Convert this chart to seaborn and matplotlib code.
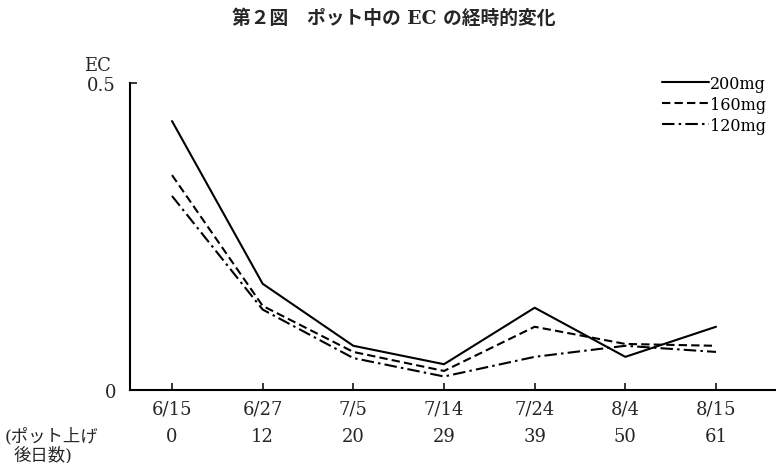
import matplotlib
matplotlib.use('Agg')
import matplotlib.pyplot as plt
import matplotlib.transforms as mtransforms
import pandas as pd
import seaborn as sns

# data
dates = ['6/15', '6/27', '7/5', '7/14', '7/24', '8/4', '8/15']
days = ['0', '12', '20', '29', '39', '50', '61']
ec_200 = [0.438, 0.173, 0.072, 0.042, 0.134, 0.054, 0.103]
ec_160 = [0.350, 0.137, 0.062, 0.031, 0.103, 0.075, 0.072]
ec_120 = [0.316, 0.131, 0.052, 0.022, 0.054, 0.072, 0.062]
doses = ['200mg', '160mg', '120mg']

rows = []
for dose, vals in zip(doses, [ec_200, ec_160, ec_120]):
    for i, v in enumerate(vals):
        rows.append({'pos': i, 'date': dates[i], 'EC': v, 'dose': dose})
df = pd.DataFrame(rows)

sns.set_theme(style='ticks')
fam = ['DejaVu Serif', 'Noto Sans CJK JP']
plt.rcParams['font.family'] = fam
plt.rcParams['axes.unicode_minus'] = False

fig = plt.figure(figsize=(7.76, 4.64), dpi=100)
ax = fig.add_axes([130 / 776, 1 - 391 / 464, 1 - 130 / 776, (391 - 84) / 464])

dashes = {'200mg': '', '160mg': (4, 2), '120mg': (6, 2, 1.2, 2)}
sns.lineplot(data=df, x='pos', y='EC', style='dose', style_order=doses,
             dashes=dashes, color='black', linewidth=1.5, sort=False, ax=ax)

# axes and ticks
ax.set_xlim(-42 / 90.67, 6 + 60 / 90.67)
ax.set_ylim(0, 0.5)
ax.set_xticks(range(len(dates)))
ax.set_xticklabels(dates, fontsize=13)
ax.set_yticks([0, 0.5])
ax.set_yticklabels(['0', '0.5'], fontsize=13)
ax.tick_params(axis='both', direction='in', length=5, width=1.1,
               color='black', pad=7)
ax.tick_params(axis='y', pad=10)
ax.set_xlabel('')
ax.set_ylabel('')
for s in ['top', 'right']:
    ax.spines[s].set_visible(False)
for s in ['left', 'bottom']:
    ax.spines[s].set_color('black')
    ax.spines[s].set_linewidth(1.5)

# day numbers under the dates
trans = mtransforms.blended_transform_factory(ax.transData, fig.transFigure)
for i, d in enumerate(days):
    ax.text(i, 1 - 437 / 464, d, transform=trans, ha='center', va='center',
            fontsize=13)
fig.text(5 / 776, 1 - 437 / 464, '(ポット上げ', ha='left', va='center',
         fontsize=12.5)
fig.text(14 / 776, 1 - 456 / 464, '後日数)', ha='left', va='center',
         fontsize=12.5)
fig.text(97 / 776, 1 - 66 / 464, 'EC', ha='center', va='center', fontsize=13)

# title
fig.text(394 / 776, 1 - 18 / 464, '第２図　ポット中の EC の経時的変化',
         ha='center', va='center', fontsize=13.5, fontweight='bold')

# legend
leg = ax.legend(loc='upper right', bbox_to_anchor=(1.0, 1 - 66 / 464),
                bbox_transform=fig.transFigure, frameon=False, fontsize=11.5,
                handlelength=2.9, handletextpad=0.1, labelspacing=0.25,
                borderaxespad=0.2)
for t in leg.get_texts():
    t.set_color('black')

fig.savefig('out.png', dpi=100, facecolor='white')
